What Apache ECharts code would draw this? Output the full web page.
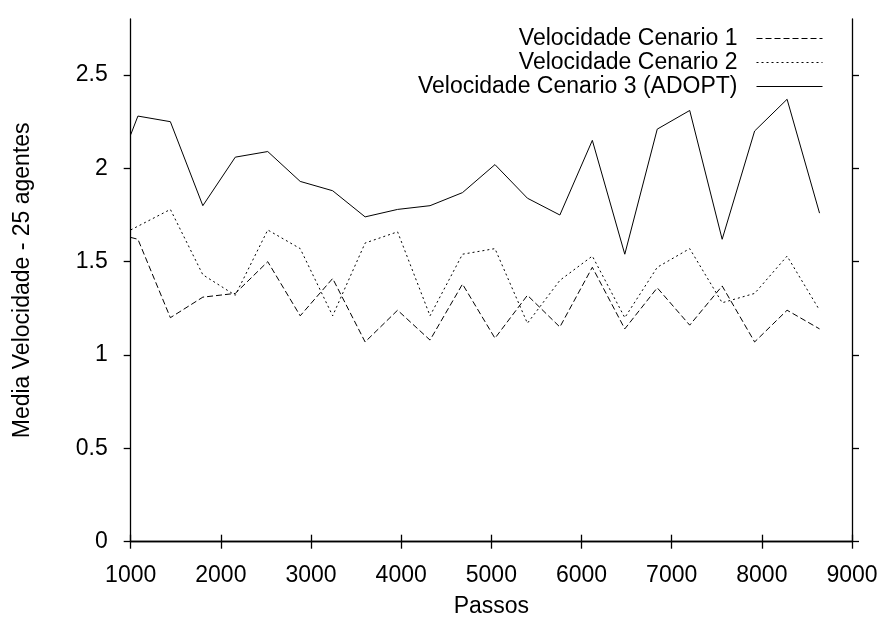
<!DOCTYPE html>
<html lang="pt">
<head>
    <meta charset="UTF-8">
    <title>Media Velocidade - 25 agentes</title>
    <script src="https://cdn.jsdelivr.net/npm/echarts@6/dist/echarts.min.js"></script>
    <style>
        * { margin: 0; padding: 0 }
        html, body { width: 100%; height: 100%; background: #fff; }
        #chart { width: 887px; height: 625px; }
    </style>
</head>
<body>
<div id="chart"></div>
<script>
    // passos (eixo x)
    var passos = [1000, 1080, 1440, 1800, 2160, 2520, 2880, 3240, 3600, 3960, 4320, 4680,
        5040, 5400, 5760, 6120, 6480, 6840, 7200, 7560, 7920, 8280, 8640];

    var cenario1 = [1.63, 1.62, 1.20, 1.31, 1.33, 1.50, 1.21, 1.41, 1.07, 1.24, 1.08, 1.38,
        1.09, 1.32, 1.15, 1.47, 1.14, 1.36, 1.16, 1.37, 1.07, 1.24, 1.14];
    var cenario2 = [1.67, 1.69, 1.78, 1.43, 1.32, 1.67, 1.57, 1.21, 1.60, 1.66, 1.21, 1.54,
        1.57, 1.17, 1.40, 1.53, 1.20, 1.47, 1.57, 1.28, 1.33, 1.53, 1.24];
    var cenario3 = [2.18, 2.28, 2.25, 1.80, 2.06, 2.09, 1.93, 1.88, 1.74, 1.78, 1.80, 1.87,
        2.02, 1.84, 1.75, 2.15, 1.54, 2.21, 2.31, 1.62, 2.20, 2.37, 1.76];

    var xTicks = [1000, 2000, 3000, 4000, 5000, 6000, 7000, 8000, 9000];
    var yTicks = [0, 0.5, 1, 1.5, 2, 2.5];

    var nomes = ['Velocidade Cenario 1', 'Velocidade Cenario 2', 'Velocidade Cenario 3 (ADOPT)'];

    function pares(ys) {
        return passos.map(function (x, i) { return [x, ys[i]]; });
    }

    var fonte = 'Liberation Sans, Arial, Helvetica, sans-serif';
    var linhaEixo = { show: true, lineStyle: { color: '#000', width: 1.3 } };
    var tick = { show: true, inside: false, length: 7, lineStyle: { color: '#000', width: 1.3 } };

    var myChart = echarts.init(document.getElementById('chart'));

    option = {
        animation: false,
        backgroundColor: '#fff',
        grid: { left: 130.7, right: 35, top: 19, bottom: 83.3, containLabel: false },
        legend: {
            orient: 'vertical',
            right: 64,
            top: 27,
            padding: 0,
            align: 'right',
            itemWidth: 66,
            itemHeight: 8,
            itemGap: 1,
            data: nomes,
            // so a linha, sem o simbolo no meio
            itemStyle: { opacity: 0 },
            lineStyle: { width: 1 },
            textStyle: { color: '#000', fontFamily: fonte, fontSize: 23, padding: [0, 14, 0, 0] }
        },
        xAxis: [
            {
                type: 'value',
                min: 1000,
                max: 9000,
                interval: 1000,
                name: 'Passos',
                nameLocation: 'middle',
                nameGap: 53,
                nameTextStyle: { color: '#000', fontFamily: fonte, fontSize: 23 },
                axisLine: linhaEixo,
                axisTick: tick,
                splitLine: { show: false },
                axisLabel: {
                    color: '#000', fontFamily: fonte, fontSize: 23, margin: 22,
                    customValues: xTicks,
                    formatter: function (v) { return String(v); }
                }
            },
            {
                type: 'value',
                position: 'top',
                min: 1000,
                max: 9000,
                interval: 1000,
                axisLine: linhaEixo,
                axisTick: tick,
                splitLine: { show: false },
                axisLabel: { show: false }
            }
        ],
        yAxis: [
            {
                type: 'value',
                min: 0,
                max: 2.8,
                name: 'Media Velocidade - 25 agentes',
                nameLocation: 'middle',
                nameGap: 97,
                nameTextStyle: { color: '#000', fontFamily: fonte, fontSize: 23 },
                axisLine: linhaEixo,
                axisTick: Object.assign({ customValues: yTicks }, tick),
                splitLine: { show: false },
                axisLabel: {
                    color: '#000', fontFamily: fonte, fontSize: 23, margin: 23,
                    customValues: yTicks
                }
            },
            {
                type: 'value',
                position: 'right',
                min: 0,
                max: 2.8,
                axisLine: linhaEixo,
                axisTick: Object.assign({ customValues: yTicks }, tick),
                splitLine: { show: false },
                axisLabel: { show: false }
            }
        ],
        series: [
            {
                name: nomes[0],
                type: 'line',
                symbol: 'none',
                data: pares(cenario1),
                itemStyle: { color: '#000' },
                lineStyle: { color: '#000', width: 1, type: [6, 3] }
            },
            {
                name: nomes[1],
                type: 'line',
                symbol: 'none',
                data: pares(cenario2),
                itemStyle: { color: '#000' },
                lineStyle: { color: '#000', width: 1, type: [2, 3] }
            },
            {
                name: nomes[2],
                type: 'line',
                symbol: 'none',
                data: pares(cenario3),
                itemStyle: { color: '#000' },
                lineStyle: { color: '#000', width: 1, type: 'solid' }
            }
        ]
    };

    myChart.setOption(option);
</script>
</body>
</html>
